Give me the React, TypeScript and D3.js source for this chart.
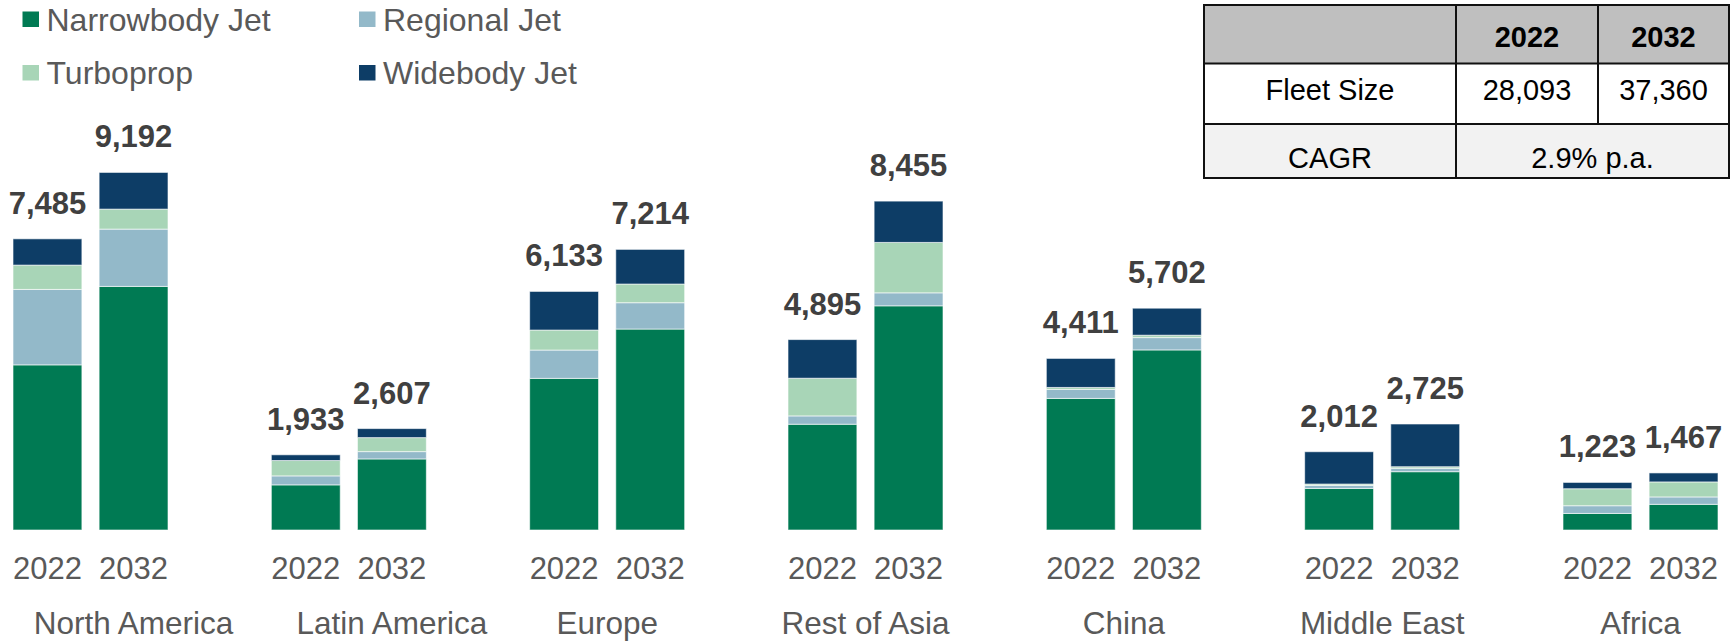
import React from "react";
import * as d3 from "d3";

const regions = ["North America", "Latin America", "Europe", "Rest of Asia", "China", "Middle East", "Africa"];
const years = ["2022", "2032"];
const seriesKeys = ["Narrowbody Jet", "Regional Jet", "Turboprop", "Widebody Jet"];
const seriesColors = ["#007A53", "#93B9C9", "#A8D5B7", "#0D3D66"];

const narrowbody2022 = [4245, 1160, 3898, 2719, 3383, 1069, 426];
const regional2022 = [1940, 231, 728, 214, 231, 77, 198];
const turboprop2022 = [625, 395, 514, 969, 51, 36, 437];
const widebody2022 = [675, 147, 993, 993, 746, 830, 162];

const narrowbody2032 = [6262, 1827, 5166, 5763, 4629, 1499, 660];
const regional2032 = [1473, 188, 677, 334, 317, 87, 190];
const turboprop2032 = [514, 360, 480, 1296, 62, 41, 386];
const widebody2032 = [943, 232, 891, 1062, 694, 1098, 231];

const totals2022 = [7485, 1933, 6133, 4895, 4411, 2012, 1223];
const totals2032 = [9192, 2607, 7214, 8455, 5702, 2725, 1467];

const tableHeader = ["", "2022", "2032"];
const fleetSizeRow = ["Fleet Size", "28,093", "37,360"];
const cagrRow = ["CAGR", "2.9% p.a."];

const FONT = "'Liberation Sans', Arial, sans-serif";

// horizontal nudge of region labels (layout)
const regionLabelShift = [43, 43, 0, 0, 0, 0, 0];

export default function App() {
  const W = 1732;
  const H = 642;

  const rows: any[] = [];
  regions.forEach((r, i) => {
    rows.push({
      region: r, year: "2022", total: totals2022[i],
      "Narrowbody Jet": narrowbody2022[i], "Regional Jet": regional2022[i],
      "Turboprop": turboprop2022[i], "Widebody Jet": widebody2022[i],
    });
    rows.push({
      region: r, year: "2032", total: totals2032[i],
      "Narrowbody Jet": narrowbody2032[i], "Regional Jet": regional2032[i],
      "Turboprop": turboprop2032[i], "Widebody Jet": widebody2032[i],
    });
  });

  const stacked = d3.stack().keys(seriesKeys)(rows as any);

  const x0 = d3.scaleBand().domain(regions).range([13, 1718]).paddingInner(0.4).paddingOuter(0);
  const x1 = d3.scaleBand().domain(years).range([0, x0.bandwidth()]).paddingInner(0.2).paddingOuter(0);
  const y = d3.scaleLinear().domain([0, 10000]).range([530, 141]);

  const barX = (d: any) => (x0(d.region) as number) + (x1(d.year) as number);

  // table geometry
  const tL = 1204, tC1 = 1456, tC2 = 1598, tR = 1729;
  const tT = 5, tR1 = 63.5, tR2 = 124, tB = 178;

  const legendPos = [[22.5, 11.5], [359, 11.5], [22.5, 65], [359, 65]];

  return (
    <svg width={W} height={H} style={{ position: "absolute", left: 0, top: 0, background: "#fff" }} fontFamily={FONT}>
      <rect x={0} y={0} width={W} height={H} fill="#fff" />
      {/* Legend */}
      {seriesKeys.map((k, i) => {
        const [lx, ly] = legendPos[i];
        return (
          <g key={k}>
            <rect x={lx} y={ly} width={16.5} height={15.5} fill={seriesColors[i]} />
            <text x={lx + 24} y={ly + 19} fontSize={32} fill="#595959">{k}</text>
          </g>
        );
      })}

      {/* Bars */}
      {stacked.map((s: any, si: number) => (
        <g key={s.key} fill={seriesColors[si]}>
          {s.map((seg: any, j: number) => (
            <rect
              key={j}
              x={barX(seg.data)}
              y={y(seg[1])}
              width={x1.bandwidth()}
              height={Math.max(0, y(seg[0]) - y(seg[1]))}
              stroke="#ffffff"
              strokeOpacity={0.6}
              strokeWidth={1}
            />
          ))}
        </g>
      ))}

      {/* Total labels */}
      {rows.map((d, i) => (
        <text
          key={"t" + i}
          x={barX(d) + x1.bandwidth() / 2}
          y={y(d.total) - 25}
          textAnchor="middle"
          fontSize={31}
          fontWeight="bold"
          fill="#404040"
        >
          {d3.format(",")(d.total)}
        </text>
      ))}

      {/* Year labels */}
      {rows.map((d, i) => (
        <text
          key={"y" + i}
          x={barX(d) + x1.bandwidth() / 2}
          y={578.5}
          textAnchor="middle"
          fontSize={31}
          fill="#595959"
        >
          {d.year}
        </text>
      ))}

      {/* Region labels */}
      {regions.map((r, i) => (
        <text
          key={r}
          x={(x0(r) as number) + x0.bandwidth() / 2 + regionLabelShift[i]}
          y={634}
          textAnchor="middle"
          fontSize={31.5}
          fill="#595959"
        >
          {r}
        </text>
      ))}

      {/* Table */}
      <g>
        <rect x={tL} y={tT} width={tR - tL} height={tR1 - tT} fill="#BFBFBF" />
        <rect x={tL} y={tR1} width={tR - tL} height={tR2 - tR1} fill="#FFFFFF" />
        <rect x={tL} y={tR2} width={tR - tL} height={tB - tR2} fill="#F2F2F2" />
        <g stroke="#111" strokeWidth={2} fill="none">
          <rect x={tL} y={tT} width={tR - tL} height={tB - tT} />
          <line x1={tL} x2={tR} y1={tR1} y2={tR1} />
          <line x1={tL} x2={tR} y1={tR2} y2={tR2} />
          <line x1={tC1} x2={tC1} y1={tT} y2={tB} />
          <line x1={tC2} x2={tC2} y1={tT} y2={tR2} />
        </g>
        <text x={(tC1 + tC2) / 2} y={46.5} textAnchor="middle" fontSize={29} fontWeight="bold" fill="#000">{tableHeader[1]}</text>
        <text x={(tC2 + tR) / 2} y={46.5} textAnchor="middle" fontSize={29} fontWeight="bold" fill="#000">{tableHeader[2]}</text>
        <text x={(tL + tC1) / 2} y={100} textAnchor="middle" fontSize={29} fill="#000">{fleetSizeRow[0]}</text>
        <text x={(tC1 + tC2) / 2} y={100} textAnchor="middle" fontSize={29} fill="#000">{fleetSizeRow[1]}</text>
        <text x={(tC2 + tR) / 2} y={100} textAnchor="middle" fontSize={29} fill="#000">{fleetSizeRow[2]}</text>
        <text x={(tL + tC1) / 2} y={168} textAnchor="middle" fontSize={29} fill="#000">{cagrRow[0]}</text>
        <text x={(tC1 + tR) / 2} y={168} textAnchor="middle" fontSize={29} fill="#000">{cagrRow[1]}</text>
      </g>
    </svg>
  );
}
